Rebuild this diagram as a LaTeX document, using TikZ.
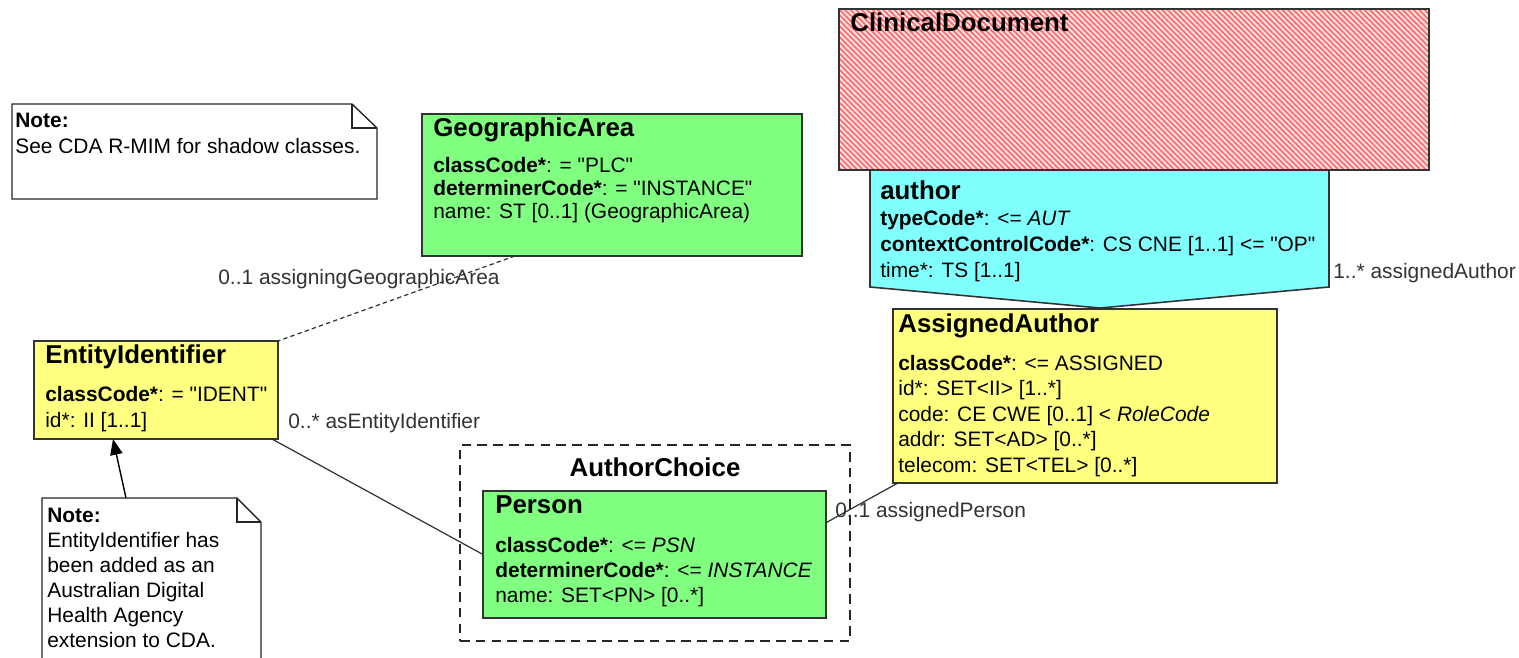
\documentclass[tikz,border=0pt]{standalone}
\usepackage{fontspec}
\setmainfont{Liberation Sans}[Ligatures=TeXOff]
\usetikzlibrary{arrows.meta, calc, patterns.meta}

\definecolor{rimgreen}{HTML}{80FF80}
\definecolor{rimyellow}{HTML}{FFFF80}
\definecolor{rimcyan}{HTML}{80FFFF}

\tikzset{
  classbox/.style={draw=black!80, line width=0.9pt, inner sep=0pt, outer sep=0pt, anchor=north west},
  boxtitle/.style={anchor=base west, inner sep=0pt, font=\fontsize{14.7pt}{17pt}\selectfont\bfseries},
  % multi-line text: placed at the baseline of its last line
  attrs/.style={anchor=base west, inner sep=0pt, align=left, font=\fontsize{11.9pt}{14.5pt}\selectfont},
  rolename/.style={anchor=base west, inner sep=0pt, text=black!80, font=\fontsize{11.9pt}{14.5pt}\selectfont},
  assoc/.style={draw=black!80, line width=0.7pt},
  notebox/.style={draw=black!85, line width=0.8pt, fill=white},
}

\begin{document}
\begin{tikzpicture}[x=0.02cm, y=-0.02cm, >=Stealth]
        \path[use as bounding box, fill=white] (0,0) rectangle (1519,657);

        % ClinicalDocument (shadow class, hatched)
        \node[classbox, minimum width=11.8cm, minimum height=3.22cm, preaction={fill=red!12},
              pattern={Lines[angle=-45, distance=2.2pt, line width=0.9pt]}, pattern color=red!60] (clin) at (839,9) {};
        \node[boxtitle] (clinTitle) at (850,31) {ClinicalDocument};

        % AssignedAuthor
        \node[classbox, fill=rimyellow, minimum width=7.68cm, minimum height=3.48cm] (aa) at (893,309) {};

        % author participation (arrow shape from ClinicalDocument down to AssignedAuthor)
        \draw[draw=black!80, line width=0.9pt, fill=rimcyan] (870,170) -- (1329,170) -- (1329,287) -- (1100,308) -- (870,287) -- cycle;
        \node[boxtitle] (authTitle) at (880,199) {author};
        \node[attrs, font=\fontsize{11.9pt}{14.7pt}\selectfont] (authAttrs) at (880,277) {\textbf{typeCode*}: <= \textit{AUT}\\
              \textbf{contextControlCode*}: CS CNE [1..1] <= "OP"\\
              time*: TS [1..1]};
        \node[rolename] (authRole) at (1333,278) {1..* assignedAuthor};

        \node[boxtitle] (aaTitle) at (898,332) {AssignedAuthor};
        \node[attrs] (aaAttrs) at (898,472) {\textbf{classCode*}: <= ASSIGNED\\
              id*: SET<II> [1..*]\\
              code: CE CWE [0..1] < \textit{RoleCode}\\
              addr: SET<AD> [0..*]\\
              telecom: SET<TEL> [0..*]};

        % GeographicArea
        \node[classbox, fill=rimgreen, minimum width=7.6cm, minimum height=2.84cm] (geo) at (422,114) {};
        \node[boxtitle] (geoTitle) at (433,136) {GeographicArea};
        \node[attrs, font=\fontsize{11.9pt}{13pt}\selectfont] (geoAttrs) at (433,218) {\textbf{classCode*}: = "PLC"\\
              \textbf{determinerCode*}: = "INSTANCE"\\
              name: ST [0..1] (GeographicArea)};

        % EntityIdentifier
        \node[classbox, fill=rimyellow, minimum width=4.88cm, minimum height=1.96cm] (ei) at (34,341) {};
        \node[boxtitle] (eiTitle) at (45,363) {EntityIdentifier};
        \node[attrs, font=\fontsize{11.9pt}{14.7pt}\selectfont] (eiAttrs) at (45,427) {\textbf{classCode*}: = "IDENT"\\
              id*: II [1..1]};

        % AuthorChoice with Person
        \node[classbox, draw=black!85, dash pattern=on 5.5pt off 3.5pt, minimum width=7.8cm, minimum height=3.92cm] (choice) at (460,445) {};
        \node[anchor=base, inner sep=0pt, font=\fontsize{14.7pt}{17pt}\selectfont\bfseries] (choiceTitle) at (655,476) {AuthorChoice};
        \node[classbox, fill=rimgreen, minimum width=6.86cm, minimum height=2.54cm] (person) at (483,491) {};
        \node[boxtitle] (personTitle) at (495,513) {Person};
        \node[attrs, font=\fontsize{11.9pt}{14.2pt}\selectfont] (personAttrs) at (495,602) {\textbf{classCode*}: <= \textit{PSN}\\
              \textbf{determinerCode*}: <= \textit{INSTANCE}\\
              name: SET<PN> [0..*]};

        % associations
        \draw[assoc, dash pattern=on 2.5pt off 1.8pt] ([xshift=1.86cm]geo.south west) -- (ei.north east);
        \draw[assoc] ([xshift=-0.12cm]ei.south east) -- (person.west);
        \draw[assoc] ($(person.north east)!0.25!(person.south east)$) -- ([xshift=0.1cm]aa.south west);
        \node[rolename] (geoRole) at (218,284) {0..1 assigningGeographicArea};
        \node[rolename] (eiRole) at (288,428) {0..* asEntityIdentifier};
        \node[rolename] (personRole) at (835,517) {0..1 assignedPerson};

        % notes
        \draw[notebox] (12,104) -- (352,104) -- (377,128) -- (377,199) -- (12,199) -- cycle;
        \draw[notebox, fill=none] (352,104) -- (352,128) -- (377,128);
        \node[attrs, font=\fontsize{11.9pt}{14.7pt}\selectfont] (noteShadow) at (15,153) {\textbf{Note:}\\ See CDA R-MIM for shadow classes.};

        \draw[notebox] (42,660) -- (42,498) -- (237,498) -- (261,522) -- (261,660);
        \draw[notebox, fill=none] (237,498) -- (237,522) -- (261,522);
        \node[attrs, font=\fontsize{11.9pt}{14.2pt}\selectfont] (noteExt) at (47,647) {\textbf{Note:}\\ EntityIdentifier has\\ been added as an\\ Australian Digital\\ Health Agency\\ extension to CDA.};
        \coordinate (noteExtTop) at (126,498);
        \draw[-{Triangle[length=9pt,width=7pt]}, line width=0.8pt] (noteExtTop) -- ([xshift=1.58cm]ei.south west);
\end{tikzpicture}
\end{document}
